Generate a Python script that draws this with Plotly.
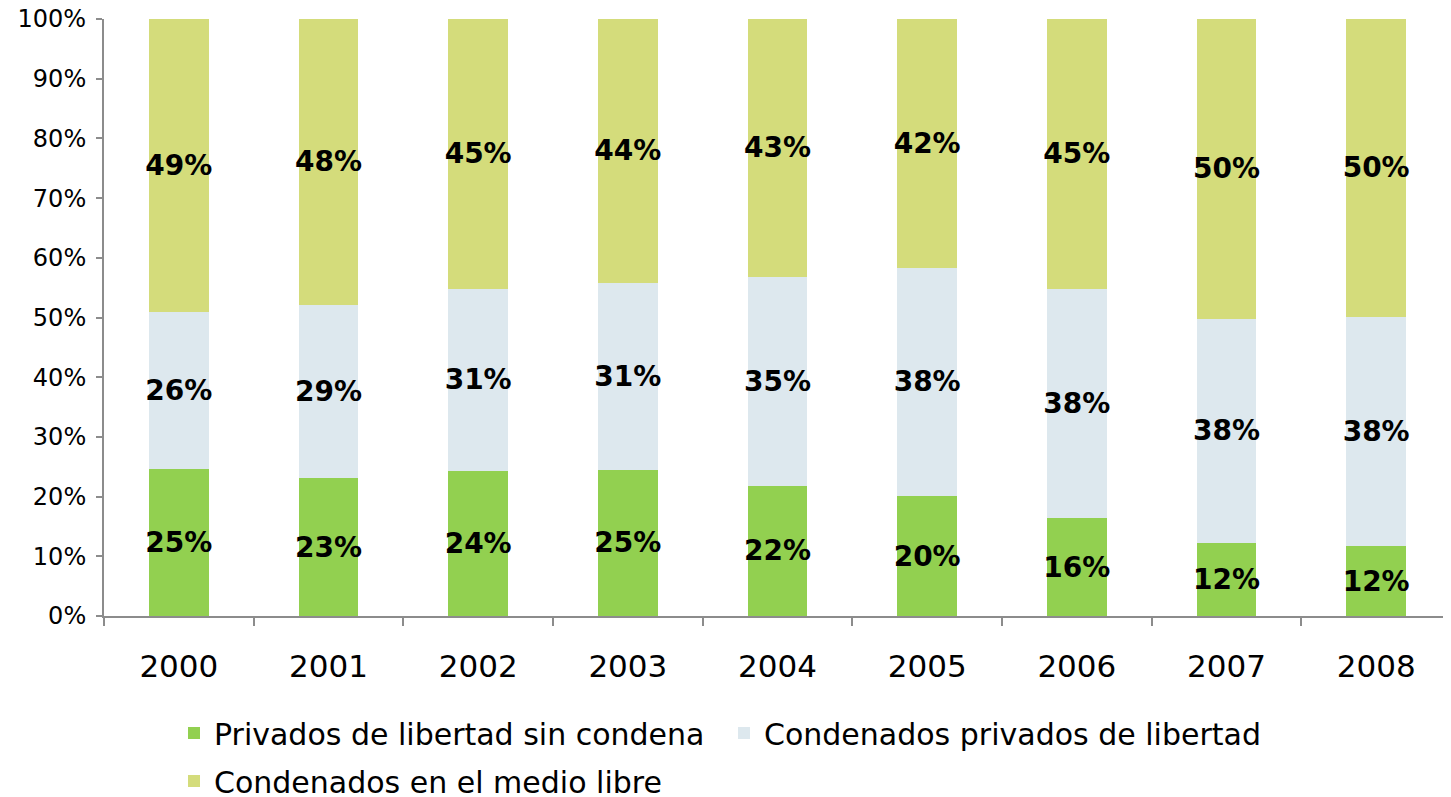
import plotly.graph_objects as go

years = ["2000", "2001", "2002", "2003", "2004", "2005", "2006", "2007", "2008"]
sin_condena = [24.7, 23.1, 24.3, 24.5, 21.8, 20.1, 16.4, 12.2, 11.7]
privados = [26.3, 29.0, 30.5, 31.3, 35.0, 38.2, 38.4, 37.6, 38.4]
medio_libre = [49.0, 47.9, 45.2, 44.2, 43.2, 41.7, 45.2, 50.2, 49.9]

series_names = ["Privados de libertad sin condena", "Condenados privados de libertad",
                "Condenados en el medio libre"]
colors = ["#92D050", "#DDE8EE", "#D4DC7B"]
legend_ids = ["legend", "legend", "legend2"]

FONT = "DejaVu Sans"
W, H = 1443, 789  # the page body adds an 8px margin

fig = go.Figure()
for name, vals, col, lg in zip(series_names, [sin_condena, privados, medio_libre], colors, legend_ids):
    fig.add_trace(go.Bar(
        x=years, y=vals, name=name, marker=dict(color=col, line=dict(width=0)),
        texttemplate="<b>%{y:.0f}%</b>", textposition="inside", insidetextanchor="middle",
        textfont=dict(family=FONT, size=28, color="black"), textangle=0,
        constraintext="none", legend=lg,
    ))

leg_common = dict(
    orientation="h", xref="container", yref="container",
    x=166 / W, xanchor="left", yanchor="middle",
    font=dict(family=FONT, size=30, color="black"),
    traceorder="normal", entrywidth=505, bgcolor="rgba(0,0,0,0)",
)

fig.update_layout(
    barmode="stack", bargap=0.6,
    width=W, height=H,
    margin=dict(l=96, r=0, t=11, b=181, autoexpand=False),
    plot_bgcolor="white", paper_bgcolor="white",
    font=dict(family=FONT, color="black"),
    xaxis=dict(
        showline=True, linecolor="#8c8c8c", linewidth=2,
        ticks="outside", tickson="boundaries", ticklen=8, tickcolor="#8c8c8c", tickwidth=2,
        tickfont=dict(family=FONT, size=31, color="black"),
        ticklabelstandoff=22,
        showgrid=False,
    ),
    yaxis=dict(
        range=[0, 100], dtick=10, ticksuffix="%",
        showline=True, linecolor="#8c8c8c", linewidth=2,
        ticks="outside", ticklen=6, tickcolor="#8c8c8c", tickwidth=2,
        tickfont=dict(family=FONT, size=24, color="black"),
        ticklabelstandoff=5, ticklabeloverflow="allow",
        showgrid=False, zeroline=False,
    ),
    legend=dict(leg_common, y=1 - 725 / H),
    legend2=dict(leg_common, y=1 - 773 / H),
)

fig.write_html("out.html")
